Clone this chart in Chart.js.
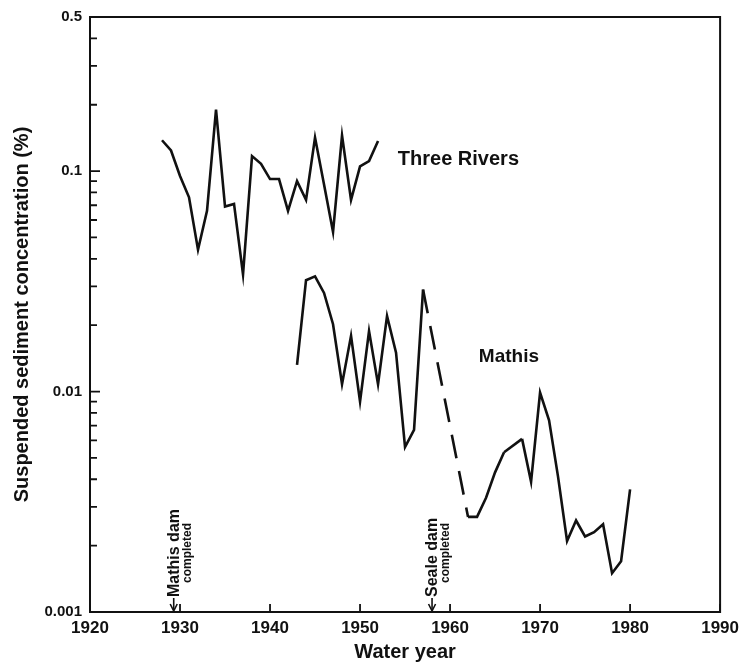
<!DOCTYPE html>
<html>
<head>
<meta charset="utf-8">
<script src="https://cdn.jsdelivr.net/npm/chart.js@4.4.1/dist/chart.umd.min.js"></script>
<style>
  html, body { margin: 0; padding: 0; background: #fff; }
  #wrap { width: 745px; height: 665px; position: relative; }
</style>
</head>
<body>
<div id="wrap"><canvas id="graph"></canvas></div>
<script>
// Three Rivers, annual water years
const trYears = [1928, 1929, 1930, 1931, 1932, 1933, 1934, 1935, 1936, 1937, 1938, 1939, 1940,
  1941, 1942, 1943, 1944, 1945, 1946, 1947, 1948, 1949, 1950, 1951, 1952];
const trConc = [0.138, 0.124, 0.095, 0.076, 0.044, 0.066, 0.19, 0.069, 0.071, 0.034, 0.117, 0.108, 0.092,
  0.092, 0.066, 0.090, 0.074, 0.142, 0.087, 0.053, 0.145, 0.074, 0.105, 0.111, 0.137];

// Mathis (missing years are bridged with a dashed line)
const maYears = [1943, 1944, 1945, 1946, 1947, 1948, 1949, 1950, 1951, 1952, 1953, 1954, 1955, 1956, 1957,
  1962, 1963, 1964, 1965, 1966, 1968, 1969, 1970, 1971, 1972, 1973, 1974, 1975, 1976, 1977, 1978, 1979, 1980];
const maConc = [0.0132, 0.032, 0.0333, 0.028, 0.0202, 0.0108, 0.0179, 0.0090, 0.0188, 0.0108, 0.022, 0.015, 0.0056, 0.0067, 0.029,
  0.0027, 0.0027, 0.0033, 0.0043, 0.0053, 0.0061, 0.0039, 0.0099, 0.0074, 0.0041, 0.0021, 0.0026, 0.0022, 0.0023, 0.0025, 0.0015, 0.0017, 0.0036];

const xTicks = [1920, 1930, 1940, 1950, 1960, 1970, 1980, 1990];
const yMajor = [0.001, 0.01, 0.1, 0.5];
const yMajorLabels = ["0.001", "0.01", "0.1", "0.5"];
const yMinor = [0.002, 0.003, 0.004, 0.005, 0.006, 0.007, 0.008, 0.009,
  0.02, 0.03, 0.04, 0.05, 0.06, 0.07, 0.08, 0.09, 0.2, 0.3, 0.4];

const damNotes = [
  { year: 1929.3, line1: "Mathis dam", line2: "completed" },
  { year: 1958, line1: "Seale dam", line2: "completed" }
];
const seriesLabels = [
  { text: "Three Rivers", year: 1954.2, value: 0.113, size: 20 },
  { text: "Mathis", year: 1963.2, value: 0.0144, size: 19 }
];

const FONT = "'Liberation Sans', Arial, sans-serif";
const INK = "#111";

const toPts = (xs, ys) => xs.map((x, i) => ({ x: x, y: ys[i] }));

const framePlugin = {
  id: "frame",
  afterDatasetsDraw(chart) {
    const { ctx, chartArea: a, scales } = chart;
    const x = scales.x, y = scales.y;
    ctx.save();
    ctx.strokeStyle = INK;
    ctx.lineWidth = 2;
    ctx.strokeRect(a.left, a.top, a.right - a.left, a.bottom - a.top);

    // inward ticks
    ctx.lineWidth = 1.8;
    ctx.beginPath();
    yMinor.forEach(v => {
      const py = y.getPixelForValue(v);
      ctx.moveTo(a.left, py); ctx.lineTo(a.left + 7, py);
    });
    yMajor.forEach(v => {
      const py = y.getPixelForValue(v);
      ctx.moveTo(a.left, py); ctx.lineTo(a.left + 10, py);
    });
    xTicks.forEach(v => {
      const px = x.getPixelForValue(v);
      ctx.moveTo(px, a.bottom); ctx.lineTo(px, a.bottom - 8);
    });
    ctx.stroke();

    // series names
    ctx.fillStyle = INK;
    ctx.textBaseline = "middle";
    ctx.textAlign = "left";
    seriesLabels.forEach(l => {
      ctx.font = "bold " + l.size + "px " + FONT;
      ctx.fillText(l.text, x.getPixelForValue(l.year), y.getPixelForValue(l.value));
    });

    // dam markers
    damNotes.forEach(d => {
      const px = x.getPixelForValue(d.year);
      ctx.save();
      ctx.lineWidth = 1.6;
      ctx.beginPath();
      ctx.moveTo(px, a.bottom - 14);
      ctx.lineTo(px, a.bottom - 2);
      ctx.stroke();
      ctx.beginPath();
      ctx.moveTo(px - 3.5, a.bottom - 8);
      ctx.lineTo(px, a.bottom - 1);
      ctx.lineTo(px + 3.5, a.bottom - 8);
      ctx.stroke();
      ctx.translate(px, a.bottom - 15);
      ctx.rotate(-Math.PI / 2);
      ctx.textAlign = "left";
      ctx.textBaseline = "middle";
      ctx.font = "bold 16px " + FONT;
      ctx.fillText(d.line1, 0, 1);
      ctx.font = "bold 12px " + FONT;
      ctx.fillText(d.line2, 14, 14);
      ctx.restore();
    });
    ctx.restore();
  }
};

const chart = new Chart(document.getElementById("graph").getContext("2d"), {
  type: "line",
  data: {
    datasets: [
      {
        label: "Three Rivers",
        data: toPts(trYears, trConc),
        borderColor: INK,
        borderWidth: 2.6,
        pointRadius: 0,
        tension: 0
      },
      {
        label: "Mathis",
        data: toPts(maYears, maConc),
        borderColor: INK,
        borderWidth: 2.6,
        pointRadius: 0,
        tension: 0,
        segment: {
          borderDash: c => (c.p1.parsed.x - c.p0.parsed.x > 1 ? [24, 13] : undefined)
        }
      }
    ]
  },
  options: {
    responsive: true,
    maintainAspectRatio: false,
    animation: false,
    layout: { padding: { left: 0, top: 15, right: 22, bottom: 0 } },
    plugins: {
      legend: { display: false },
      tooltip: { enabled: false }
    },
    scales: {
      x: {
        type: "linear",
        min: 1920,
        max: 1990,
        afterFit: s => { s.height = 53; },
        afterBuildTicks: s => { s.ticks = xTicks.map(v => ({ value: v })); },
        grid: { display: false, drawTicks: false },
        border: { display: false },
        ticks: {
          padding: 6,
          color: INK,
          font: { family: FONT, size: 17, weight: "bold" },
          callback: v => String(v)
        },
        title: {
          display: true,
          text: "Water year",
          color: INK,
          font: { family: FONT, size: 20, weight: "bold" },
          padding: { top: 0, bottom: 1 }
        }
      },
      y: {
        type: "logarithmic",
        min: 0.001,
        max: 0.5,
        afterFit: s => { s.width = 90; },
        afterBuildTicks: s => { s.ticks = yMajor.map(v => ({ value: v })); },
        grid: { display: false, drawTicks: false },
        border: { display: false },
        ticks: {
          padding: 8,
          color: INK,
          font: { family: FONT, size: 15, weight: "bold" },
          callback: v => {
            const i = yMajor.findIndex(m => Math.abs(m - v) < 1e-9);
            return i >= 0 ? yMajorLabels[i] : "";
          }
        },
        title: {
          display: true,
          text: "Suspended sediment concentration (%)",
          color: INK,
          font: { family: FONT, size: 20, weight: "bold" },
          padding: { top: 10, bottom: 0 }
        }
      }
    }
  },
  plugins: [framePlugin]
});
</script>
</body>
</html>
